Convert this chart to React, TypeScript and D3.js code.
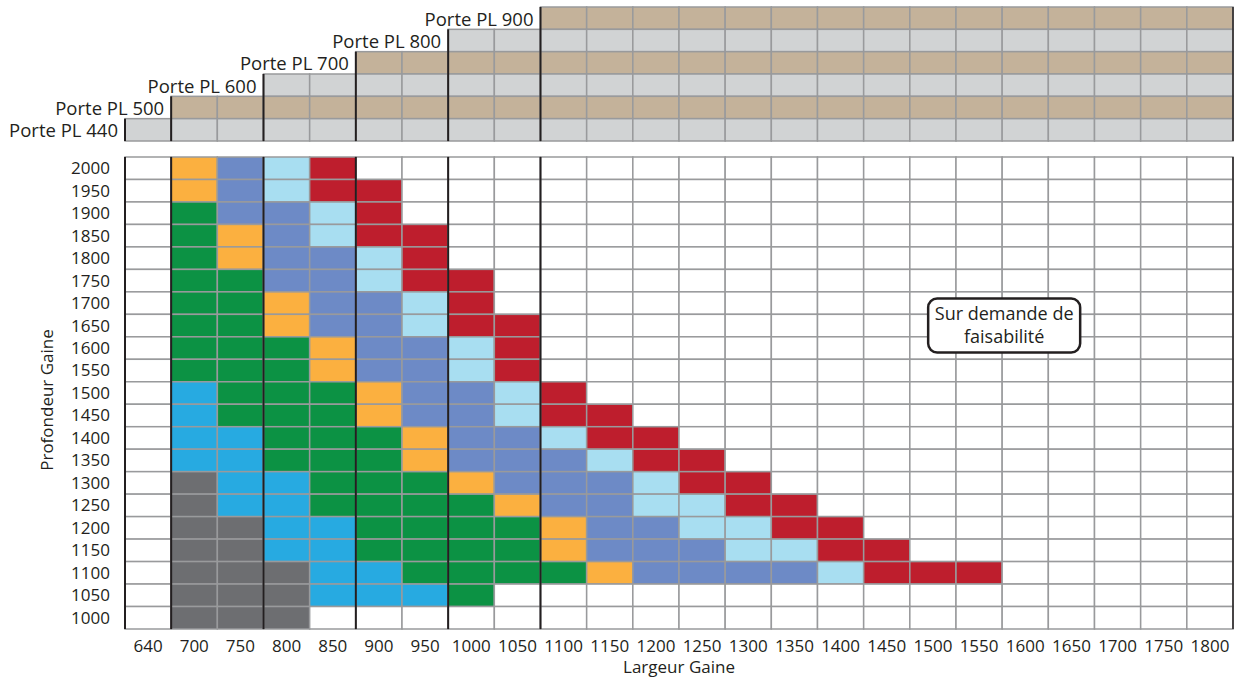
import React from 'react';
import * as d3 from 'd3';

// Largeur Gaine (columns) and Profondeur Gaine (rows)
const largeurs = [640, 700, 750, 800, 850, 900, 950, 1000, 1050, 1100, 1150, 1200, 1250, 1300, 1350, 1400, 1450, 1500, 1550, 1600, 1650, 1700, 1750, 1800];
const profondeurs = [2000, 1950, 1900, 1850, 1800, 1750, 1700, 1650, 1600, 1550, 1500, 1450, 1400, 1350, 1300, 1250, 1200, 1150, 1100, 1050, 1000];

// one string per row, one letter per column (starting at 640)
const cellCodes = [
  '.OBLR',
  '.OBLRR',
  '.GBBLR',
  '.GOBLRR',
  '.GOBBLR',
  '.GGBBLRR',
  '.GGOBBLR',
  '.GGOBBLRR',
  '.GGGOBBLR',
  '.GGGOBBLR',
  '.CGGGOBBLR',
  '.CGGGOBBLRR',
  '.CCGGGOBBLRR',
  '.CCGGGOBBBLRR',
  '.DCCGGGOBBBLRR',
  '.DCCGGGGOBBLLRR',
  '.DDCCGGGGOBBLLRR',
  '.DDCCGGGGOBBBLLRR',
  '.DDDCCGGGGOBBBBLRRR',
  '.DDDCCCG',
  '.DDD',
];

const codeColors: Record<string, string> = {
  '.': '#ffffff',
  O: '#fbb040',
  B: '#6d8ac6',
  L: '#a8def1',
  R: '#be1e2d',
  G: '#0c9244',
  C: '#27aae1',
  D: '#6d6e71',
};

// door bands on top
const portes = ['Porte PL 900', 'Porte PL 800', 'Porte PL 700', 'Porte PL 600', 'Porte PL 500', 'Porte PL 440'];
const porteDebut = [1100, 1000, 900, 800, 700, 640];
const porteCouleurs = ['#c4b29a', '#d1d3d4', '#c4b29a', '#d1d3d4', '#c4b29a', '#d1d3d4'];

const W = 1236;
const H = 684;
const FONT = '"Open Sans", sans-serif';
const GRID = '#999a9c';
const DARK = '#231f20';

const App: React.FC = () => {
  const x = d3.scaleBand<number>().domain(largeurs).range([125, 1233]).padding(0);
  const y = d3.scaleBand<number>().domain(profondeurs).range([157, 629]).padding(0);
  const yp = d3.scaleBand<string>().domain(portes).range([7, 141]).padding(0);
  const bw = x.bandwidth();
  const bh = y.bandwidth();
  const ph = yp.bandwidth();
  const right = x.range()[1];

  return (
    <svg width={W} height={H} style={{ position: 'absolute', left: 0, top: 0, background: '#fff' }} fontFamily={FONT}>
      {/* door bands */}
      {portes.map((p, i) => {
        const start = porteDebut[i];
        const cols = largeurs.filter((l) => l >= start);
        return (
          <g key={p}>
            {cols.map((c) => (
              <rect key={c} x={x(c)} y={yp(p)} width={bw} height={ph} fill={porteCouleurs[i]} stroke={GRID} strokeWidth={1.5} />
            ))}
            <text x={(x(start) as number) - 7} y={(yp(p) as number) + ph / 2 + 1} dy="0.35em" textAnchor="end" fontSize={18.5} fill={DARK}>
              {p}
            </text>
          </g>
        );
      })}

      {/* grid cells */}
      {profondeurs.map((pr, r) => {
        const codes = cellCodes[r].padEnd(largeurs.length, '.');
        return largeurs.map((l, c) => (
          <rect key={`${pr}-${l}`} x={x(l)} y={y(pr)} width={bw} height={bh} fill={codeColors[codes[c]]} stroke={GRID} strokeWidth={1.5} />
        ));
      })}

      {/* black separators */}
      {portes.map((p, i) => {
        const xs = x(porteDebut[i]) as number;
        return (
          <g key={`sep-${p}`} stroke={DARK} strokeWidth={2}>
            <line x1={xs} x2={xs} y1={yp(p)} y2={yp.range()[1]} />
            <line x1={xs} x2={xs} y1={y.range()[0]} y2={y.range()[1]} />
          </g>
        );
      })}
      <line x1={right} x2={right} y1={yp.range()[0]} y2={yp.range()[1]} stroke={DARK} strokeWidth={1.5} />
      <line x1={right} x2={right} y1={y.range()[0]} y2={y.range()[1]} stroke={DARK} strokeWidth={1.5} />

      {/* y labels */}
      {profondeurs.map((pr) => (
        <text key={`yl-${pr}`} x={110} y={(y(pr) as number) + bh / 2} dy="0.35em" textAnchor="end" fontSize={17} fill={DARK}>
          {pr}
        </text>
      ))}
      {/* x labels */}
      {largeurs.map((l) => (
        <text key={`xl-${l}`} x={(x(l) as number) + bw / 2} y={646} dy="0.35em" textAnchor="middle" fontSize={17} fill={DARK}>
          {l}
        </text>
      ))}

      <text x={679} y={667} dy="0.35em" textAnchor="middle" fontSize={17} fill={DARK}>
        Largeur Gaine
      </text>
      <text transform="translate(47,400) rotate(-90)" dy="0.35em" textAnchor="middle" fontSize={17} fill={DARK}>
        Profondeur Gaine
      </text>

      {/* annotation */}
      {(() => {
        const cx = (x(1600) as number) + 2;
        const cy = (y(1650) as number) + bh / 2;
        return (
          <g>
            <rect x={cx - 76} y={cy - 27} width={152} height={54} rx={9} fill="#fff" stroke={DARK} strokeWidth={2.5} />
            <text x={cx} y={cy - 12} dy="0.35em" textAnchor="middle" fontSize={18} fill={DARK}>
              Sur demande de
            </text>
            <text x={cx} y={cy + 11} dy="0.35em" textAnchor="middle" fontSize={18} fill={DARK}>
              faisabilité
            </text>
          </g>
        );
      })()}
    </svg>
  );
};

export default App;
